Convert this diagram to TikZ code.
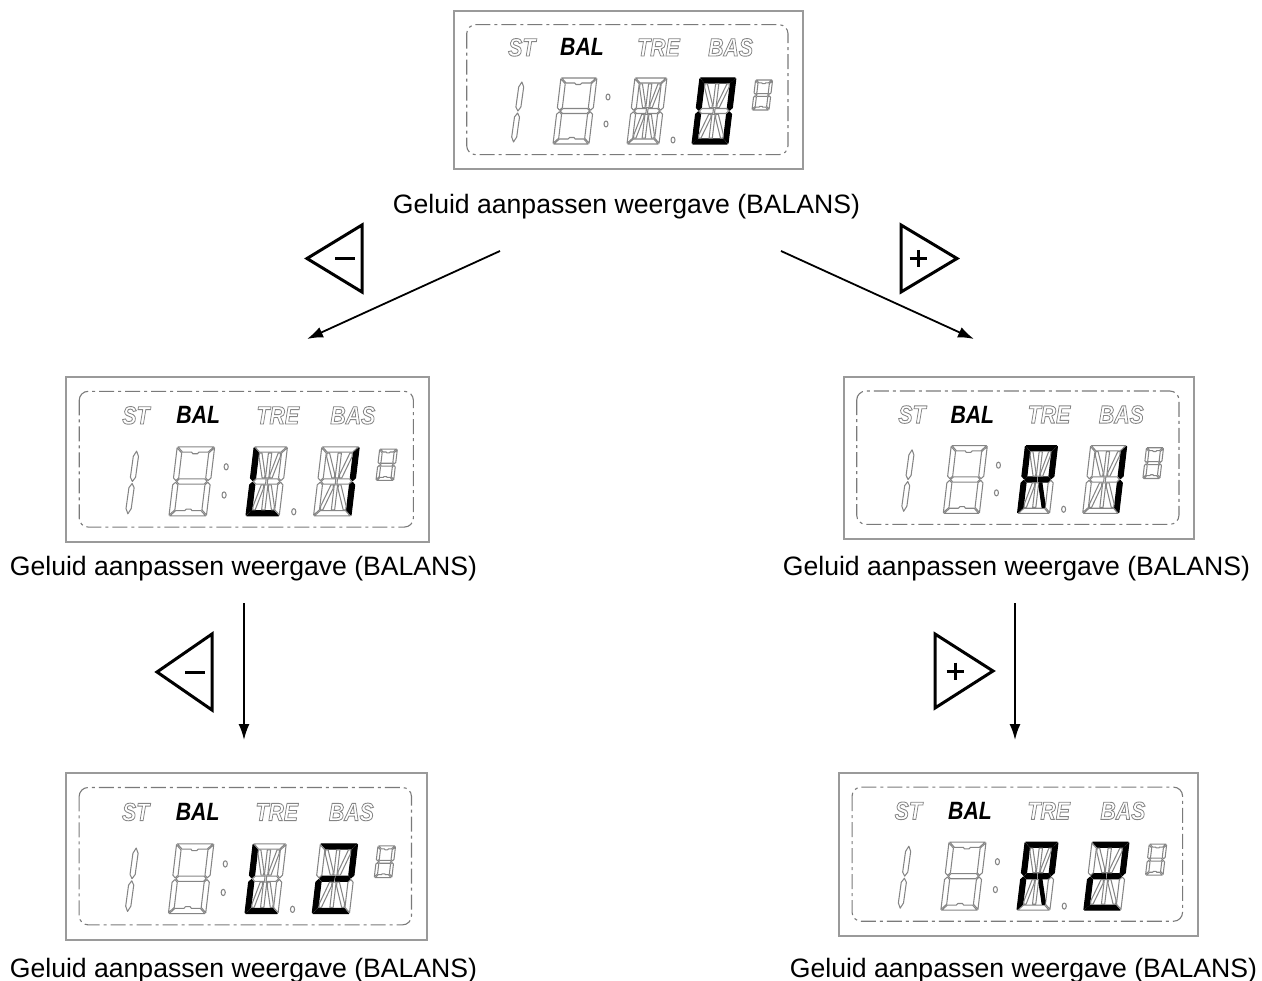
\documentclass[tikz,border=0pt]{standalone}
\usepackage{fontspec}
\setmainfont{Liberation Sans}
\usepackage{graphicx}
\usetikzlibrary{arrows.meta}
\definecolor{lcdgray}{HTML}{858585}
\definecolor{boxgray}{HTML}{9A9A9A}
\definecolor{framegray}{HTML}{7A7A7A}

\tikzset{
 segoff/.style={draw=lcdgray, line width=1.05pt, line join=round, fill=white},
 segon/.style={draw=black, fill=black, line width=1.05pt, line join=round},
 sa/.style=segoff, sb/.style=segoff, sc/.style=segoff, sd/.style=segoff,
 se/.style=segoff, sf/.style=segoff, sg/.style=segoff, sn/.style=segoff,
 sh/.style=segoff, si/.style=segoff, sj/.style=segoff, sk/.style=segoff,
 sl/.style=segoff, sm/.style=segoff,
 lit/.style={s#1/.style=segon},
 lcdbox/.style={draw=boxgray, line width=1.8pt, inner sep=0pt, outer sep=0pt},
 lcdframe/.style={draw=framegray, line width=1.1pt, dash pattern=on 15pt off 4pt on 3pt off 4pt, rounded corners=9pt},
 lbl/.style={inner sep=0pt, anchor=base west, font=\fontsize{25}{25}\selectfont\bfseries\itshape},
 caption/.style={inner sep=0pt, anchor=base, font=\fontsize{26.6}{30}\selectfont},
 flow/.style={line width=1.8pt, -{Latex[length=16pt,width=11pt]}},
 btn/.style={line width=3pt, line join=miter},
 sign/.style={line width=3pt},
}

\newcommand\outl[1]{{\color{lcdgray}\special{pdf:literal direct 1 Tr 0.9 w}#1\special{pdf:literal direct 0 Tr}}}

% side segments b c e f
\newcommand\sidesegs{%
 \path[sf] (0,{\sH-\sG}) -- (\sT,{\sH-\sG-\sT}) -- (\sT,{\sM+\sT/2+\sG}) -- ({\sT/2},{\sM+\sG}) -- (0,{\sM+\sT/2+\sG}) -- cycle;
 \path[se] (0,\sG) -- (\sT,{\sG+\sT}) -- (\sT,{\sM-\sT/2-\sG}) -- ({\sT/2},{\sM-\sG}) -- (0,{\sM-\sT/2-\sG}) -- cycle;
 \path[sb] (\sW,{\sH-\sG}) -- ({\sW-\sT},{\sH-\sG-\sT}) -- ({\sW-\sT},{\sM+\sT/2+\sG}) -- ({\sW-\sT/2},{\sM+\sG}) -- (\sW,{\sM+\sT/2+\sG}) -- cycle;
 \path[sc] (\sW,\sG) -- ({\sW-\sT},{\sG+\sT}) -- ({\sW-\sT},{\sM-\sT/2-\sG}) -- ({\sW-\sT/2},{\sM-\sG}) -- (\sW,{\sM-\sT/2-\sG}) -- cycle;
}

% seven-segment digit: origin, W, H, thickness, lit list
\newcommand\sevenseg[5]{%
 \begin{scope}[shift={#1}, yscale=-1, xslant=-0.12]
 \tikzset{#5}
 \pgfmathsetmacro\sW{#2}\pgfmathsetmacro\sH{#3}\pgfmathsetmacro\sT{#4}
 \pgfmathsetmacro\sM{\sH/2}\def\sG{0.8}
 \path[sa] (\sG,\sH) -- ({\sW-\sG},\sH) -- ({\sW-\sG-\sT},{\sH-\sT}) -- ({\sW/2+0.7*\sT},{\sH-\sT}) -- ({\sW/2+0.45*\sT},{\sH-1.3*\sT}) -- ({\sW/2-0.45*\sT},{\sH-1.3*\sT}) -- ({\sW/2-0.7*\sT},{\sH-\sT}) -- ({\sG+\sT},{\sH-\sT}) -- cycle;
 \path[sd] (\sG,0) -- ({\sW-\sG},0) -- ({\sW-\sG-\sT},\sT) -- ({\sW/2+0.7*\sT},\sT) -- ({\sW/2+0.45*\sT},{1.3*\sT}) -- ({\sW/2-0.45*\sT},{1.3*\sT}) -- ({\sW/2-0.7*\sT},\sT) -- ({\sG+\sT},\sT) -- cycle;
 \sidesegs
 \path[sg] ({\sT/2+\sG},\sM) -- ({\sT+\sG},{\sM+\sT/2}) -- ({\sW-\sT-\sG},{\sM+\sT/2}) -- ({\sW-\sT/2-\sG},\sM) -- ({\sW-\sT-\sG},{\sM-\sT/2}) -- ({\sT+\sG},{\sM-\sT/2}) -- cycle;
 \end{scope}}

% fourteen-segment digit: origin, W, H, thickness, lit list
\newcommand\fourteenseg[5]{%
 \begin{scope}[shift={#1}, yscale=-1, xslant=-0.12]
 \tikzset{#5}
 \pgfmathsetmacro\sW{#2}\pgfmathsetmacro\sH{#3}\pgfmathsetmacro\sT{#4}
 \pgfmathsetmacro\sM{\sH/2}\def\sG{0.8}\def\sC{1.6}\def\sD{2.4}
 \pgfmathsetmacro\xl{\sT+\sG}\pgfmathsetmacro\xr{\sW-\sT-\sG}
 \pgfmathsetmacro\cl{\sW/2-\sC-\sG}\pgfmathsetmacro\cr{\sW/2+\sC+\sG}
 \pgfmathsetmacro\yt{\sH-\sT-\sG}\pgfmathsetmacro\ymt{\sM+\sT/2+\sG}
 \pgfmathsetmacro\ymb{\sM-\sT/2-\sG}\pgfmathsetmacro\yb{\sT+\sG}
 \path[sa] (\sG,\sH) -- ({\sW-\sG},\sH) -- ({\sW-\sG-\sT},{\sH-\sT}) -- ({\sG+\sT},{\sH-\sT}) -- cycle;
 \path[sd] (\sG,0) -- ({\sW-\sG},0) -- ({\sW-\sG-\sT},\sT) -- ({\sG+\sT},\sT) -- cycle;
 \sidesegs
 \path[sg] ({\sT/2+\sG},\sM) -- ({\sT+\sG},{\sM+\sT/2}) -- ({\sW/2-\sG},{\sM+\sT/2}) -- ({\sW/2-\sG},{\sM-\sT/2}) -- ({\sT+\sG},{\sM-\sT/2}) -- cycle;
 \path[sn] ({\sW-\sT/2-\sG},\sM) -- ({\sW-\sT-\sG},{\sM+\sT/2}) -- ({\sW/2+\sG},{\sM+\sT/2}) -- ({\sW/2+\sG},{\sM-\sT/2}) -- ({\sW-\sT-\sG},{\sM-\sT/2}) -- cycle;
 \path[si] ({\sW/2-\sC},\ymt) rectangle ({\sW/2+\sC},\yt);
 \path[sl] ({\sW/2-\sC},\yb) rectangle ({\sW/2+\sC},\ymb);
 \path[sh] (\xl,\yt) -- ({\xl+\sD},\yt) -- (\cl,{\ymt+1.5*\sD}) -- (\cl,\ymt) -- ({\cl-\sD},\ymt) -- (\xl,{\yt-1.5*\sD}) -- cycle;
 \path[sj] (\xr,\yt) -- ({\xr-\sD},\yt) -- (\cr,{\ymt+1.5*\sD}) -- (\cr,\ymt) -- ({\cr+\sD},\ymt) -- (\xr,{\yt-1.5*\sD}) -- cycle;
 \path[sk] (\xl,\yb) -- ({\xl+\sD},\yb) -- (\cl,{\ymb-1.5*\sD}) -- (\cl,\ymb) -- ({\cl-\sD},\ymb) -- (\xl,{\yb+1.5*\sD}) -- cycle;
 \path[sm] (\xr,\yb) -- ({\xr-\sD},\yb) -- (\cr,{\ymb-1.5*\sD}) -- (\cr,\ymb) -- ({\cr+\sD},\ymb) -- (\xr,{\yb+1.5*\sD}) -- cycle;
 \end{scope}}

% half digit "1": origin, H, thickness
\newcommand\onedigit[3]{%
 \begin{scope}[shift={#1}, yscale=-1, xslant=-0.14]
 \pgfmathsetmacro\sH{#2}\pgfmathsetmacro\sT{#3}\pgfmathsetmacro\sM{\sH/2}
 \path[segoff] ({\sT/2},\sH) -- (\sT,{\sH-\sT}) -- (\sT,{\sM+\sT}) -- ({\sT/2},{\sM+1}) -- (0,{\sM+\sT}) -- (0,{\sH-\sT}) -- cycle;
 \path[segoff] ({\sT/2},0) -- (\sT,\sT) -- (\sT,{\sM-\sT}) -- ({\sT/2},{\sM-1}) -- (0,{\sM-\sT}) -- (0,\sT) -- cycle;
 \end{scope}}

% LCD panel: x, y (top-left), w, h, name, lit list digit A, lit list digit B
\newcommand\lcd[7]{%
 \node[lcdbox, minimum width=#3pt, minimum height=#4pt, anchor=north west] (#5) at (#1,#2) {};
 \pgfmathsetmacro\lsx{#3/349}\pgfmathsetmacro\lsy{#4/158}
 \begin{scope}[shift={(#1,#2)}, xscale=\lsx, yscale=\lsy]
 \draw[lcdframe] (12.7,13.7) rectangle (334,143.7);
 \node[lbl] (#5st) at (54,45) {\scalebox{0.85}[1]{\outl{ST}}};
 \node[lbl] (#5bal) at (106,45) {\scalebox{0.85}[1]{BAL}};
 \node[lbl] (#5tre) at (183,45) {\scalebox{0.85}[1]{\outl{TRE}}};
 \node[lbl] (#5bas) at (254,45) {\scalebox{0.85}[1]{\outl{BAS}}};
 \onedigit{(57,131)}{60}{5}
 \sevenseg{(99,133)}{36}{66}{5}{}
 \path[segoff] (154,86) ellipse (2 and 3);
 \path[segoff] (152,113) ellipse (2 and 3);
 \fourteenseg{(173,133)}{32}{66}{5}{#6}
 \path[segoff] (219,129) ellipse (2 and 3);
 \fourteenseg{(238,133)}{36}{66}{5}{#7}
 \sevenseg{(298,99)}{17}{30}{2.8}{}
 \end{scope}}

\begin{document}
\begin{tikzpicture}[x=1pt,y=-1pt]
\useasboundingbox (0,0) rectangle (1262,981);

% panels
\lcd{454}{11}{349}{158}{p1}{}{lit=a,lit=b,lit=c,lit=d,lit=e,lit=f}
\lcd{66}{377}{363}{165}{p2}{lit=d,lit=e,lit=f}{lit=b,lit=c}
\lcd{844}{377}{350}{162}{p3}{lit=a,lit=b,lit=e,lit=f,lit=g,lit=n,lit=m}{lit=b,lit=c}
\lcd{66}{773}{361}{167}{p4}{lit=d,lit=e,lit=f}{lit=a,lit=b,lit=g,lit=n,lit=e,lit=d}
\lcd{839}{773}{359}{163}{p5}{lit=a,lit=b,lit=e,lit=f,lit=g,lit=n,lit=m}{lit=a,lit=b,lit=g,lit=n,lit=e,lit=d}

% captions
\node[caption] (c1) at (626.5,214) {Geluid aanpassen weergave (BALANS)};
\node[caption] (c2) at (243.5,576) {Geluid aanpassen weergave (BALANS)};
\node[caption] (c3) at (1016.5,576) {Geluid aanpassen weergave (BALANS)};
\node[caption] (c4) at (243.5,977) {Geluid aanpassen weergave (BALANS)};
\node[caption] (c5) at (1023.5,977) {Geluid aanpassen weergave (BALANS)};

% arrows
\coordinate (a1s) at (500,251);  \coordinate (a1e) at (307,339);
\coordinate (a2s) at (781,251);  \coordinate (a2e) at (974,339);
\coordinate (a3s) at (244,603);  \coordinate (a3e) at (244,740);
\coordinate (a4s) at (1015,603); \coordinate (a4e) at (1015,740);
\draw[flow] (a1s) -- (a1e);
\draw[flow] (a2s) -- (a2e);
\draw[flow] (a3s) -- (a3e);
\draw[flow] (a4s) -- (a4e);

% buttons
\draw[btn] (362,225) -- (307,258.5) -- (362,292) -- cycle;
\draw[sign] (335,258.5) -- (355,258.5);
\draw[btn] (901,225) -- (957,258.5) -- (901,292) -- cycle;
\draw[sign] (909.5,258.5) -- (926.5,258.5) (918,250) -- (918,267);
\draw[btn] (212,634) -- (157,672) -- (212,710) -- cycle;
\draw[sign] (185,672) -- (205,672);
\draw[btn] (935,634) -- (993,671) -- (935,708) -- cycle;
\draw[sign] (946.5,671) -- (963.5,671) (955,662.5) -- (955,679.5);
\end{tikzpicture}
\end{document}
